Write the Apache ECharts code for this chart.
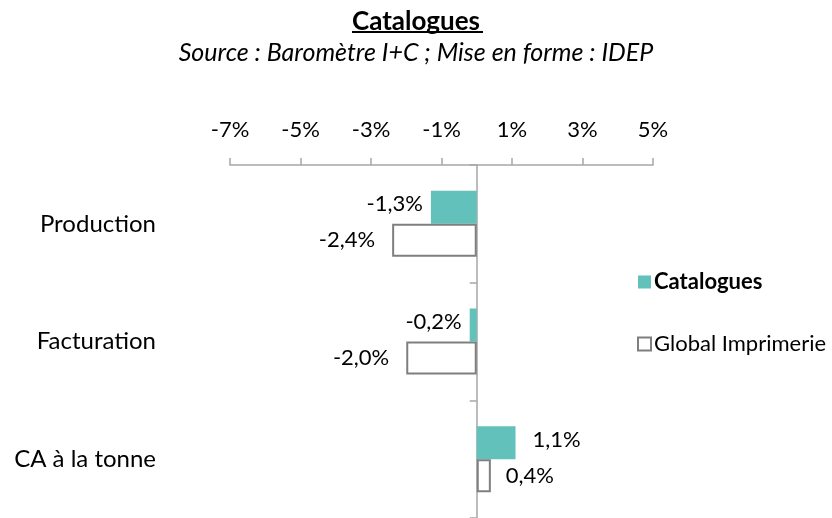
<!DOCTYPE html>
<html><head><meta charset="utf-8">
<script src="https://cdn.jsdelivr.net/npm/echarts@6/dist/echarts.min.js"></script>
<style>html,body{margin:0;padding:0;background:#fff}#c{width:832px;height:518px}</style>
</head><body><div id="c"></div>
<script>
const categories = ['Production', 'Facturation', 'CA à la tonne'];
const catalogues = [-1.3, -0.2, 1.1];
const globalImprimerie = [-2.4, -2.0, 0.4];
const xTicks = { min: -7, max: 5, interval: 2 };
const seriesNames = ['Catalogues', 'Global Imprimerie'];
const titleText = 'Catalogues';
const subtitleText = 'Source : Baromètre I+C ; Mise en forme : IDEP';

const FONT = 'Lato';
const fmt = v => v.toFixed(1).replace('.', ',') + '%';
const axisGray = '#a6a6a6';

const chart = echarts.init(document.getElementById('c'), null, { renderer: 'canvas' });
function mk(vals, dNeg, dPos) {
  return vals.map(v => ({ value: v, label: { position: v < 0 ? 'left' : 'right', distance: v < 0 ? dNeg : dPos } }));
}
chart.setOption({
  animation: false,
  backgroundColor: '#fff',
  textStyle: { fontFamily: FONT },
  title: [
    { text: titleText, left: 'center', top: 4, textStyle: { fontFamily: FONT, fontSize: 26, fontWeight: 'bold', color: '#000' } },
    { text: subtitleText, left: 'center', top: 35, textStyle: { fontFamily: FONT, fontSize: 25, fontStyle: 'italic', fontWeight: 'normal', color: '#000' } }
  ],
  graphic: [
    { type: 'rect', shape: { x: 352, y: 31, width: 131, height: 2 }, style: { fill: '#000' } }
  ],
  legend: {
    orient: 'vertical', left: 632, top: 266, itemWidth: 13, itemHeight: 13, itemGap: 40,
    icon: 'rect',
    data: seriesNames,
    formatter: n => n === 'Catalogues' ? '{b|' + n + '}' : '{n|' + n + '}',
    textStyle: {
      fontFamily: FONT, fontSize: 22, color: '#000', padding: [0, 0, 0, -2],
      rich: { b: { fontFamily: FONT, fontSize: 22, fontWeight: 'bold', color: '#000' }, n: { fontFamily: FONT, fontSize: 22, color: '#000' } }
    }
  },
  grid: { left: 230, right: 179, top: 165, height: 354, containLabel: false },
  xAxis: {
    type: 'value', position: 'top', min: xTicks.min, max: xTicks.max, interval: xTicks.interval,
    axisLine: { show: true, onZero: false, lineStyle: { color: axisGray, width: 1.5 } },
    axisTick: { show: true, length: 7, lineStyle: { color: axisGray, width: 1.5 } },
    splitLine: { show: false },
    axisLabel: { margin: 24, fontFamily: FONT, fontSize: 22, color: '#000', formatter: v => v + '%' }
  },
  yAxis: [
    {
      type: 'category', data: categories, inverse: true, position: 'left',
      axisLine: { show: true, onZero: true, lineStyle: { color: axisGray, width: 1.5 } },
      axisTick: { show: true, length: 7, lineStyle: { color: axisGray, width: 1.5 } },
      axisLabel: { show: false }
    },
    {
      type: 'category', data: categories, inverse: true, position: 'left',
      axisLine: { show: false }, axisTick: { show: false },
      axisLabel: { show: true, margin: 74, fontFamily: FONT, fontSize: 24, color: '#000' }
    }
  ],
  series: [
    {
      name: seriesNames[0], type: 'bar', yAxisIndex: 0, data: mk(catalogues, 8, 17),
      barWidth: 33, barGap: '0%',
      itemStyle: { color: '#62c1ba' },
      label: { show: true, offset: [0, -3], fontFamily: FONT, fontSize: 22, color: '#000', formatter: p => fmt(p.value) }
    },
    {
      name: seriesNames[1], type: 'bar', yAxisIndex: 0, data: mk(globalImprimerie, 17, 15),
      barWidth: 33, barGap: '0%',
      itemStyle: { color: '#ffffff', borderColor: '#7f7f7f', borderWidth: 2 },
      label: { show: true, fontFamily: FONT, fontSize: 22, color: '#000', formatter: p => fmt(p.value) }
    }
  ]
});
</script></body></html>
